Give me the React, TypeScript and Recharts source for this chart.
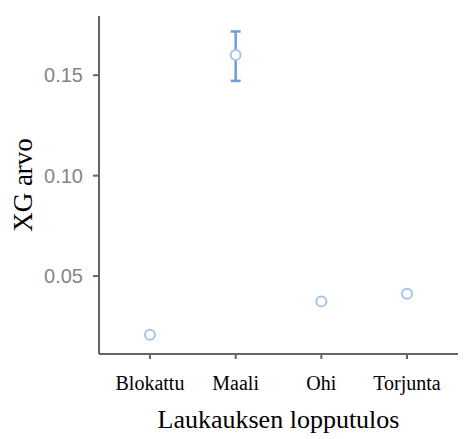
import { ScatterChart, Scatter, XAxis, YAxis, ErrorBar, Label } from "recharts";

const categories = ["Blokattu", "Maali", "Ohi", "Torjunta"];
const xgMean = [0.0208, 0.1601, 0.0374, 0.0412];
const errLow: (number | null)[] = [null, 0.0129, null, null];
const errHigh: (number | null)[] = [null, 0.0117, null, null];
const yTicks = [0.05, 0.1, 0.15];

const data = categories.map((name, i) => ({
  x: i,
  name,
  xg: xgMean[i],
  err: errLow[i] == null ? null : [errLow[i], errHigh[i]],
}));

const Dot = (props: any) => (
  <circle cx={props.cx} cy={props.cy} r={5} fill="#fff" stroke="#a9c3ef" strokeWidth={2} />
);

const YLabel = ({ viewBox }: any) => (
  <text
    x={viewBox.x + 32}
    y={viewBox.y + viewBox.height / 2}
    transform={`rotate(-90 ${viewBox.x + 32} ${viewBox.y + viewBox.height / 2})`}
    textAnchor="middle"
    fontFamily="Liberation Serif"
    fontSize={27}
    fill="#000"
  >
    XG arvo
  </text>
);

export default function App() {
  return (
    <div style={{ position: "absolute", left: 0, top: 0, background: "#fff" }}>
      <ScatterChart width={467} height={439} margin={{ top: 16, right: 9, left: 0, bottom: 0 }}>
        <XAxis type="number" dataKey="x" domain={[-0.595, 3.595]} ticks={[0, 1, 2, 3]}
          tickFormatter={(v) => categories[v] ?? ""} height={85} stroke="#666" strokeWidth={2}
          tickSize={5} tickMargin={17}
          tick={{ fill: "#000", fontSize: 20, fontFamily: "Liberation Serif" }}>
          <Label value="Laukauksen lopputulos" position="insideBottom" offset={11}
            style={{ fill: "#000", fontSize: 26, fontFamily: "Liberation Serif" }} />
        </XAxis>
        <YAxis type="number" dataKey="xg" domain={[0.0112, 0.1795]} ticks={yTicks} width={99}
          tickFormatter={(v) => v.toFixed(2)} stroke="#666" strokeWidth={2} tickSize={6} tickMargin={10}
          tick={{ fill: "#858585", fontSize: 20, fontFamily: "Liberation Sans" }}
          label={<YLabel />} />
        <Scatter data={data} dataKey="xg" shape={<Dot />} isAnimationActive={false}>
          <ErrorBar dataKey="err" direction="y" width={5} stroke="#6f9be3" strokeWidth={2.5} />
        </Scatter>
      </ScatterChart>
    </div>
  );
}
